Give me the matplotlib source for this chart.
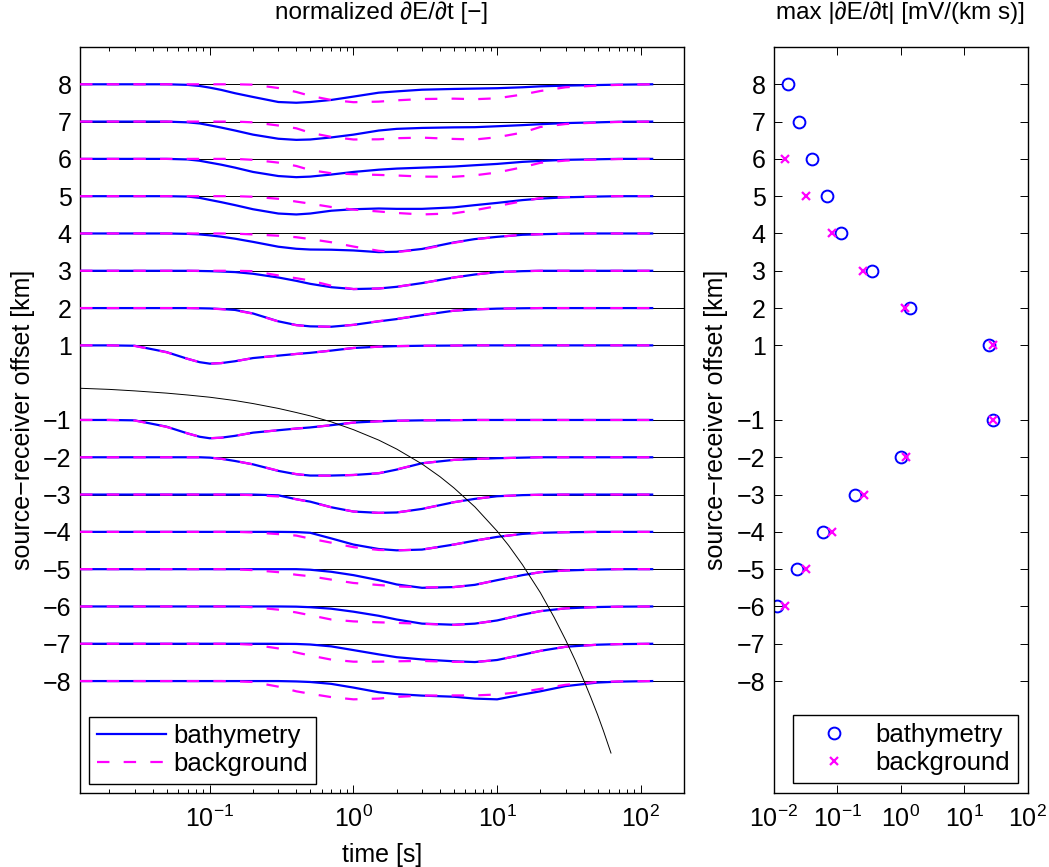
import matplotlib
matplotlib.use("Agg")
import matplotlib.pyplot as plt
import numpy as np
from matplotlib.lines import Line2D

plt.rcParams['font.family'] = ['Liberation Sans', 'DejaVu Sans']
plt.rcParams['font.size'] = 17
plt.rcParams['axes.unicode_minus'] = True

# time samples [s] shared by all traces
time_s = [0.0125, 0.02, 0.03, 0.05, 0.07, 0.085, 0.1, 0.12, 0.15, 0.2, 0.3, 0.4, 0.5, 0.7,
          1, 1.5, 2, 3, 5, 7, 10, 15, 20, 30, 50, 70, 120]

offsets = [8, 7, 6, 5, 4, 3, 2, 1, -1, -2, -3, -4, -5, -6, -7, -8]

# normalized dE/dt, bathymetry model
bathy_p8 = [0, 0, 0, 0, -0.03, -0.09, -0.18, -0.3, -0.48, -0.68, -0.95, -0.99, -0.95, -0.84, -0.66, -0.45, -0.38, -0.29, -0.25, -0.23, -0.21, -0.16, -0.11, -0.07, -0.04, -0.02, 0]
bathy_p7 = [0, 0, 0, 0, -0.04, -0.1, -0.2, -0.32, -0.48, -0.7, -0.92, -0.98, -0.96, -0.85, -0.7, -0.48, -0.39, -0.34, -0.31, -0.3, -0.25, -0.19, -0.14, -0.08, -0.04, -0.01, 0]
bathy_p6 = [0, 0, 0, 0, -0.03, -0.1, -0.2, -0.31, -0.47, -0.7, -0.92, -0.98, -0.95, -0.84, -0.7, -0.58, -0.52, -0.47, -0.41, -0.34, -0.27, -0.16, -0.11, -0.05, -0.02, 0, 0]
bathy_p5 = [0, 0, 0, 0, -0.02, -0.09, -0.2, -0.32, -0.48, -0.7, -0.93, -0.98, -0.93, -0.78, -0.7, -0.66, -0.68, -0.68, -0.6, -0.48, -0.36, -0.21, -0.13, -0.06, -0.02, 0, 0]
bathy_p4 = [0, 0, 0, 0, -0.02, -0.05, -0.1, -0.17, -0.28, -0.45, -0.71, -0.82, -0.86, -0.87, -0.91, -1.0, -0.98, -0.83, -0.48, -0.3, -0.18, -0.07, -0.04, -0.01, 0, 0, 0]
bathy_p3 = [0, 0, 0, 0, 0, -0.01, -0.02, -0.04, -0.07, -0.16, -0.36, -0.54, -0.7, -0.88, -0.98, -0.95, -0.86, -0.66, -0.36, -0.2, -0.07, -0.02, 0, 0, 0, 0, 0]
bathy_p2 = [0, 0, 0, 0, 0, -0.01, -0.02, -0.05, -0.1, -0.29, -0.71, -0.91, -0.98, -1.0, -0.9, -0.71, -0.59, -0.38, -0.14, -0.07, -0.03, -0.01, 0, 0, 0, 0, 0]
bathy_p1 = [0, 0, -0.02, -0.36, -0.72, -0.9, -0.98, -0.95, -0.85, -0.68, -0.55, -0.46, -0.4, -0.28, -0.14, -0.07, -0.04, -0.02, -0.01, 0, 0, 0, 0, 0, 0, 0, 0]
bathy_m1 = [0, 0, -0.02, -0.36, -0.72, -0.9, -0.98, -0.95, -0.85, -0.68, -0.55, -0.46, -0.4, -0.28, -0.14, -0.07, -0.04, -0.02, -0.01, 0, 0, 0, 0, 0, 0, 0, 0]
bathy_m2 = [0, 0, 0, 0, 0, 0, -0.02, -0.08, -0.2, -0.38, -0.73, -0.91, -0.98, -0.98, -0.95, -0.86, -0.66, -0.32, -0.14, -0.09, -0.05, -0.02, 0, 0, 0, 0, 0]
bathy_m3 = [0, 0, 0, 0, 0, 0, 0, 0, 0, 0, -0.04, -0.25, -0.38, -0.68, -0.91, -0.98, -0.96, -0.77, -0.41, -0.23, -0.09, -0.03, -0.01, 0, 0, 0, 0]
bathy_m4 = [0, 0, 0, 0, 0, 0, 0, 0, 0, 0, 0, -0.01, -0.05, -0.35, -0.68, -0.92, -0.99, -0.95, -0.68, -0.47, -0.27, -0.11, -0.05, -0.02, 0, 0, 0]
bathy_m5 = [0, 0, 0, 0, 0, 0, 0, 0, 0, 0, 0, 0, -0.03, -0.14, -0.32, -0.59, -0.82, -1.0, -0.96, -0.84, -0.59, -0.32, -0.16, -0.07, -0.02, 0, 0]
bathy_m6 = [0, 0, 0, 0, 0, 0, 0, 0, 0, 0, 0, -0.01, -0.04, -0.12, -0.28, -0.5, -0.7, -0.92, -0.98, -0.92, -0.75, -0.44, -0.25, -0.1, -0.03, -0.01, 0]
bathy_m7 = [0, 0, 0, 0, 0, 0, 0, 0, 0, 0, 0, -0.01, -0.04, -0.14, -0.34, -0.57, -0.72, -0.84, -0.94, -0.98, -0.87, -0.59, -0.38, -0.16, -0.05, -0.02, 0]
bathy_m8 = [0, 0, 0, 0, 0, 0, 0, 0, 0, 0, 0, -0.02, -0.05, -0.15, -0.35, -0.6, -0.7, -0.78, -0.84, -0.94, -0.98, -0.72, -0.55, -0.27, -0.08, -0.03, 0]

# normalized dE/dt, background model
back_p8 = [0, 0, 0, 0, 0, 0, 0, 0, 0, -0.02, -0.2, -0.41, -0.62, -0.84, -0.96, -0.93, -0.86, -0.79, -0.77, -0.8, -0.75, -0.55, -0.36, -0.16, -0.07, -0.03, 0]
back_p7 = [0, 0, 0, 0, 0, 0, 0, 0, 0, -0.04, -0.21, -0.36, -0.6, -0.82, -0.96, -0.95, -0.89, -0.86, -0.93, -0.96, -0.84, -0.59, -0.29, -0.13, -0.05, -0.02, 0]
back_p6 = [0, 0, 0, 0, 0, 0, 0, 0, 0, -0.05, -0.2, -0.38, -0.6, -0.77, -0.82, -0.86, -0.89, -0.95, -0.96, -0.88, -0.73, -0.45, -0.21, -0.09, -0.03, -0.01, 0]
back_p5 = [0, 0, 0, 0, 0, 0, 0, 0, 0, -0.03, -0.14, -0.29, -0.4, -0.58, -0.72, -0.82, -0.9, -0.98, -0.92, -0.75, -0.53, -0.27, -0.1, -0.05, -0.01, 0, 0]
back_p4 = [0, 0, 0, 0, 0, 0, 0, 0, -0.01, -0.05, -0.12, -0.2, -0.3, -0.47, -0.7, -0.93, -0.99, -0.86, -0.5, -0.31, -0.18, -0.07, -0.04, -0.01, 0, 0, 0]
back_p3 = [0, 0, 0, 0, 0, 0, 0, 0, 0, -0.02, -0.25, -0.4, -0.52, -0.8, -0.98, -0.95, -0.86, -0.66, -0.36, -0.2, -0.07, -0.02, 0, 0, 0, 0, 0]
back_p2 = [0, 0, 0, 0, 0, -0.01, -0.02, -0.06, -0.12, -0.3, -0.72, -0.92, -0.98, -1.0, -0.9, -0.7, -0.58, -0.37, -0.14, -0.07, -0.03, -0.01, 0, 0, 0, 0, 0]
back_p1 = [0, 0, -0.03, -0.37, -0.72, -0.9, -0.98, -0.95, -0.85, -0.68, -0.55, -0.46, -0.4, -0.28, -0.14, -0.07, -0.04, -0.02, -0.01, 0, 0, 0, 0, 0, 0, 0, 0]
back_m1 = [0, 0, -0.03, -0.37, -0.72, -0.9, -0.98, -0.95, -0.85, -0.68, -0.55, -0.46, -0.4, -0.28, -0.14, -0.07, -0.04, -0.02, -0.01, 0, 0, 0, 0, 0, 0, 0, 0]
back_m2 = [0, 0, 0, 0, 0, 0, -0.02, -0.08, -0.2, -0.38, -0.72, -0.9, -0.98, -0.99, -0.95, -0.85, -0.65, -0.32, -0.14, -0.09, -0.05, -0.02, 0, 0, 0, 0, 0]
back_m3 = [0, 0, 0, 0, 0, 0, 0, 0, 0, -0.03, -0.1, -0.25, -0.4, -0.68, -0.91, -0.98, -0.96, -0.77, -0.41, -0.23, -0.09, -0.03, -0.01, 0, 0, 0, 0]
back_m4 = [0, 0, 0, 0, 0, 0, 0, 0, 0, -0.03, -0.12, -0.2, -0.36, -0.58, -0.82, -0.97, -0.99, -0.95, -0.68, -0.47, -0.27, -0.11, -0.05, -0.02, 0, 0, 0]
back_m5 = [0, 0, 0, 0, 0, 0, 0, 0, -0.01, -0.05, -0.16, -0.3, -0.38, -0.56, -0.74, -0.85, -0.92, -0.98, -0.96, -0.84, -0.59, -0.32, -0.16, -0.07, -0.02, 0, 0]
back_m6 = [0, 0, 0, 0, 0, 0, 0, 0, 0, -0.04, -0.17, -0.32, -0.47, -0.7, -0.8, -0.85, -0.88, -0.93, -0.99, -0.92, -0.75, -0.44, -0.25, -0.1, -0.03, -0.01, 0]
back_m7 = [0, 0, 0, 0, 0, 0, 0, 0, -0.01, -0.05, -0.25, -0.47, -0.63, -0.85, -0.96, -0.96, -0.94, -0.92, -0.97, -0.98, -0.87, -0.59, -0.38, -0.16, -0.05, -0.02, 0]
back_m8 = [0, 0, 0, 0, 0, 0, 0, 0, -0.01, -0.05, -0.3, -0.55, -0.68, -0.86, -0.98, -0.94, -0.85, -0.78, -0.77, -0.77, -0.72, -0.58, -0.42, -0.2, -0.05, -0.02, 0]

# black reference curve
curve_t = [0.0125, 0.02, 0.03, 0.05, 0.07, 0.1, 0.15, 0.2, 0.3, 0.4, 0.5, 0.7,
           1, 1.5, 2, 3, 4, 5, 7, 10, 12, 15, 20, 25, 30, 35, 40, 45, 50, 55, 62]
curve_y = [-0.15, -0.18, -0.22, -0.28, -0.33, -0.39, -0.48, -0.56, -0.69, -0.8,
           -0.89, -1.05, -1.26, -1.54, -1.78, -2.18, -2.52, -2.82, -3.33, -3.98,
           -4.36, -4.88, -5.63, -6.3, -6.9, -7.45, -7.97, -8.45, -8.9, -9.34, -9.93]

# max |dE/dt| [mV/(km s)] per offset
max_bathy = [0.0164, 0.0248, 0.0402, 0.0684, 0.1135, 0.347, 1.40, 24.0,
             28.4, 0.99, 0.19, 0.0598, 0.0227, 0.0113, np.nan, np.nan]
max_back = [np.nan, np.nan, 0.0149, 0.0319, 0.0828, 0.255, 1.156, 28.4,
            28.4, 1.19, 0.258, 0.0828, 0.0319, 0.0149, np.nan, np.nan]

bathy = [bathy_p8, bathy_p7, bathy_p6, bathy_p5, bathy_p4, bathy_p3, bathy_p2, bathy_p1,
         bathy_m1, bathy_m2, bathy_m3, bathy_m4, bathy_m5, bathy_m6, bathy_m7, bathy_m8]
back = [back_p8, back_p7, back_p6, back_p5, back_p4, back_p3, back_p2, back_p1,
        back_m1, back_m2, back_m3, back_m4, back_m5, back_m6, back_m7, back_m8]

ylab = 'source\u2212receiver offset [km]'
dash = (0, (5.6, 6.4))
BLUE = '#0000ff'
MAG = '#ff00ff'

fig = plt.figure(figsize=(10.49, 8.67), dpi=100)
ax1 = fig.add_axes([0.0763, 0.0854, 0.5758, 0.8604])
ax2 = fig.add_axes([0.7378, 0.0854, 0.2421, 0.8604])

# left panel: traces
t = np.array(time_s)
for k, b, m in zip(offsets, bathy, back):
    ax1.axhline(k, color='k', lw=0.7, zorder=1)
    ax1.plot(t, k + 0.5 * np.array(b), color=BLUE, lw=1.6, zorder=2)
    ax1.plot(t, k + 0.5 * np.array(m), color=MAG, lw=1.6, ls=dash, zorder=3)
ax1.plot(curve_t, curve_y, color='k', lw=0.7, zorder=4)

ax1.set_xscale('log')
ax1.set_xlim(0.0125, 200)
ax1.set_ylim(-11, 9)
ax1.set_yticks(offsets)
ax1.set_title('normalized \u2202E/\u2202t [\u2212]', fontsize=17.5, pad=20)
ax1.set_xlabel('time [s]', fontsize=18, labelpad=8)
ax1.set_ylabel(ylab, fontsize=18)
ax1.yaxis.set_label_coords(-0.074, 0.5)

h1 = [Line2D([], [], color=BLUE, lw=1.6),
      Line2D([], [], color=MAG, lw=1.6, ls=dash)]
leg1 = ax1.legend(h1, ['bathymetry', 'background'], loc='lower left',
                  fontsize=18.5, fancybox=False, edgecolor='k', framealpha=1,
                  borderaxespad=0.35, borderpad=0.3, labelspacing=0.15,
                  handlelength=2.7, handletextpad=0.3)
leg1.get_frame().set_linewidth(1.0)

# right panel: maxima
ax2.plot(max_bathy, offsets, 'o', color=BLUE, ms=8.5, mfc='none', mew=1.4, ls='none')
ax2.plot(max_back, offsets, 'x', color=MAG, ms=6, mew=1.6, ls='none')
ax2.set_xscale('log')
ax2.set_xlim(0.01, 100)
ax2.set_ylim(-11, 9)
ax2.set_yticks(offsets)
ax2.set_xticks([0.01, 0.1, 1, 10, 100])
ax2.set_title('max |\u2202E/\u2202t| [mV/(km s)]', fontsize=17.5, pad=20)
ax2.set_ylabel(ylab, fontsize=18)
ax2.yaxis.set_label_coords(-0.18, 0.5)

h2 = [Line2D([], [], color=BLUE, marker='o', ms=8.5, mfc='none', mew=1.4, ls='none'),
      Line2D([], [], color=MAG, marker='x', ms=6, mew=1.6, ls='none')]
leg2 = ax2.legend(h2, ['bathymetry', 'background'], loc='lower right',
                  fontsize=18.5, fancybox=False, edgecolor='k', framealpha=1,
                  borderaxespad=0.4, borderpad=0.3, labelspacing=0.15,
                  handlelength=2.6, handletextpad=0.3)
leg2.get_frame().set_linewidth(1.0)

for ax in (ax1, ax2):
    ax.tick_params(which='both', direction='in', top=True, right=True,
                   labelsize=18, width=0.7)
    ax.tick_params(which='major', length=5.5)
    ax.tick_params(axis='x', which='major', pad=9)
    ax.tick_params(axis='y', which='major', pad=6)
    ax.tick_params(which='minor', length=2.8)
    ax.tick_params(axis='y', which='minor', left=False, right=False)
    for s in ax.spines.values():
        s.set_linewidth(1.0)

fig.savefig('out.png', dpi=100)
